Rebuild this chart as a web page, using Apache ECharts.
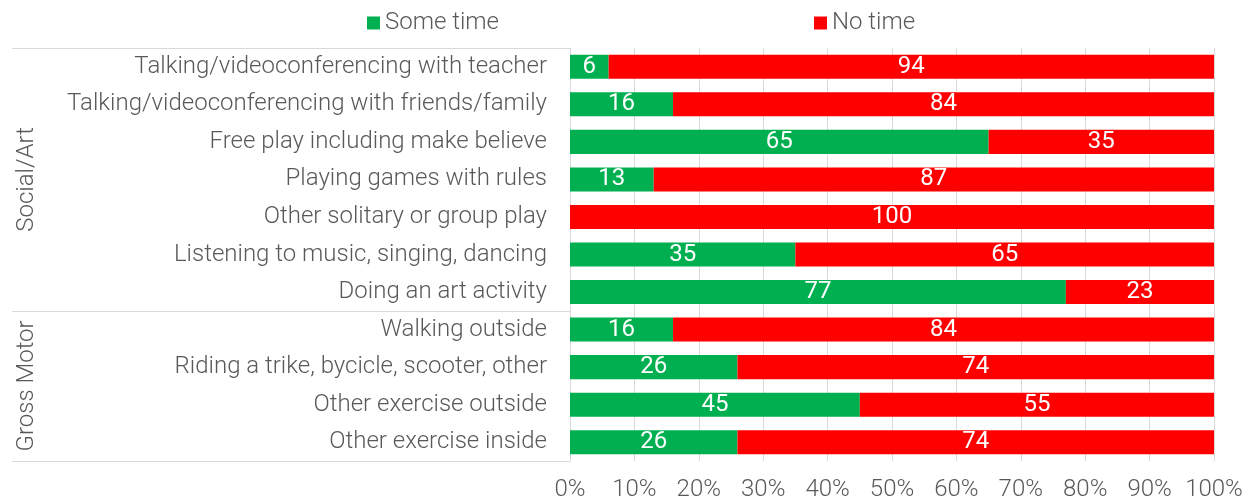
<!DOCTYPE html>
<html>
<head>
<meta charset="utf-8">
<script src="https://cdn.jsdelivr.net/npm/echarts@6/dist/echarts.min.js"></script>
<style>
html,body{margin:0;padding:0;background:#fff;}
#chart{width:1252px;height:502px;}
</style>
</head>
<body>
<div id="chart"></div>
<script>
const categories = [
  "Talking/videoconferencing with teacher",
  "Talking/videoconferencing with friends/family",
  "Free play including make believe",
  "Playing games with rules",
  "Other solitary or group play",
  "Listening to music, singing, dancing",
  "Doing an art activity",
  "Walking outside",
  "Riding a trike, bycicle, scooter, other",
  "Other exercise outside",
  "Other exercise inside"
];
const someTime = [6, 16, 65, 13, 0, 35, 77, 16, 26, 45, 26];
const noTime = [94, 84, 35, 87, 100, 65, 23, 84, 74, 55, 74];
const groups = [
  { name: "Social/Art", start: 0, end: 6 },
  { name: "Gross Motor", start: 7, end: 10 }
];
const xTicks = [0, 10, 20, 30, 40, 50, 60, 70, 80, 90, 100];

const FONT = 'Roboto';
const TXT = '#595959';
const LINE = '#d9d9d9';
const FS = 24;

const chart = echarts.init(document.getElementById('chart'), null, { renderer: 'canvas' });

const labelCfg = {
  show: true,
  position: 'inside',
  color: '#fff',
  fontFamily: FONT,
  fontSize: FS,
  formatter: p => (p.value ? String(p.value) : '')
};

const legendText = { color: TXT, fontFamily: FONT, fontWeight: 300, fontSize: FS };

const option = {
  animation: false,
  backgroundColor: '#fff',
  legend: [
    { data: ['Some time'], left: 362, top: 6, itemWidth: 13, itemHeight: 13, icon: 'rect', textStyle: legendText },
    { data: ['No time'], left: 809, top: 6, itemWidth: 13, itemHeight: 13, icon: 'rect', textStyle: legendText }
  ],
  grid: { left: 570, right: 38, top: 48, bottom: 41, containLabel: false },
  xAxis: {
    type: 'value', min: 0, max: 100, interval: 10,
    axisLine: { show: false },
    axisTick: { show: false },
    splitLine: { show: true, lineStyle: { color: LINE, width: 1 } },
    axisLabel: {
      color: TXT, fontFamily: FONT, fontWeight: 300, fontSize: FS, margin: 17,
      formatter: v => xTicks.includes(v) ? v + '%' : ''
    }
  },
  yAxis: {
    type: 'category', data: categories, inverse: true,
    axisLine: { show: true, lineStyle: { color: LINE, width: 1 } },
    axisTick: { show: false },
    axisLabel: { color: TXT, fontFamily: FONT, fontWeight: 300, fontSize: FS, margin: 23, padding: [3, 0, 0, 0] }
  },
  series: [
    {
      name: 'Some time', type: 'bar', stack: 'total', data: someTime,
      barCategoryGap: '36%', itemStyle: { color: '#00B050' }, label: labelCfg
    },
    {
      name: 'No time', type: 'bar', stack: 'total', data: noTime,
      barCategoryGap: '36%', itemStyle: { color: '#FF0000' }, label: labelCfg
    }
  ]
};
chart.setOption(option);

// group box lines and rotated group labels
const c0 = chart.convertToPixel({ yAxisIndex: 0 }, categories[0]);
const c1 = chart.convertToPixel({ yAxisIndex: 0 }, categories[1]);
const band = c1 - c0;
const axisX = chart.convertToPixel({ xAxisIndex: 0 }, 0);
const leftX = 12;
const elements = [];
const boundaries = new Set();
groups.forEach(g => {
  const top = chart.convertToPixel({ yAxisIndex: 0 }, categories[g.start]) - band / 2;
  const bot = chart.convertToPixel({ yAxisIndex: 0 }, categories[g.end]) + band / 2;
  boundaries.add(Math.round(top));
  boundaries.add(Math.round(bot));
  elements.push({
    type: 'text',
    x: 27, y: (top + bot) / 2, rotation: Math.PI / 2,
    style: {
      text: g.name, fill: TXT, font: '300 ' + FS + 'px ' + FONT,
      align: 'center', verticalAlign: 'middle'
    }
  });
});
boundaries.forEach(y => {
  elements.push({
    type: 'line',
    shape: { x1: leftX, y1: y + 0.5, x2: axisX, y2: y + 0.5 },
    style: { stroke: LINE, lineWidth: 1 }
  });
});
chart.setOption({ graphic: { elements } });
</script>
</body>
</html>
